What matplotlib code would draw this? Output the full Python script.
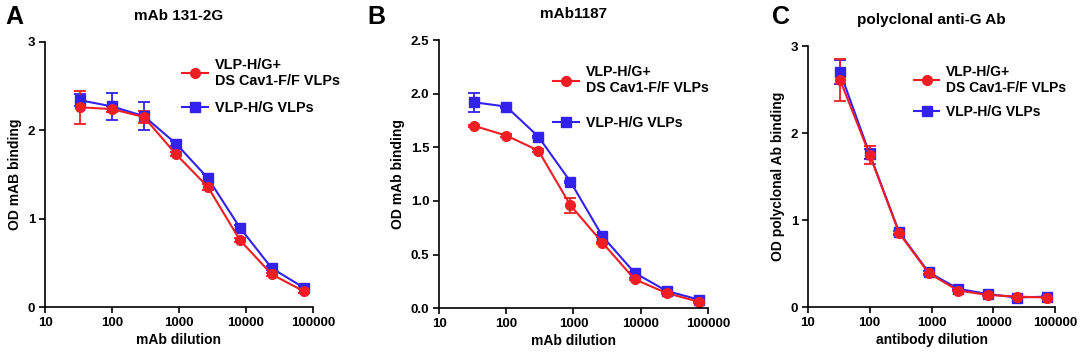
import matplotlib
matplotlib.use("Agg")
import matplotlib.pyplot as plt
from matplotlib.lines import Line2D
from matplotlib.ticker import FixedLocator, FixedFormatter, NullLocator

plt.rcParams['font.family'] = ['Liberation Sans', 'DejaVu Sans']
plt.rcParams['font.weight'] = 'bold'

dilution = [33.3, 100, 300, 900, 2700, 8100, 24300, 72900]

titles = ["mAb 131-2G", "mAb1187", "polyclonal anti-G Ab"]
panel_letters = ["A", "B", "C"]
xlabels = ["mAb dilution", "mAb dilution", "antibody dilution"]
ylabels = ["OD mAB binding", "OD mAb binding", "OD polyclonal Ab binding"]
label_red = "VLP-H/G+\nDS Cav1-F/F VLPs"
label_blue = "VLP-H/G VLPs"

# Panel A
a_red = [2.26, 2.24, 2.15, 1.73, 1.36, 0.76, 0.37, 0.18]
a_red_err = [0.19, 0.03, 0.07, 0.02, 0.03, 0.02, 0.02, 0.02]
a_blue = [2.34, 2.27, 2.16, 1.85, 1.46, 0.90, 0.44, 0.22]
a_blue_err = [0.07, 0.15, 0.16, 0.03, 0.05, 0.03, 0.02, 0.02]
# Panel B
b_red = [1.70, 1.61, 1.47, 0.96, 0.61, 0.27, 0.14, 0.06]
b_red_err = [0.01, 0.01, 0.01, 0.07, 0.01, 0.01, 0.01, 0.01]
b_blue = [1.92, 1.88, 1.60, 1.18, 0.67, 0.33, 0.16, 0.08]
b_blue_err = [0.09, 0.01, 0.01, 0.01, 0.01, 0.01, 0.01, 0.01]
# Panel C
c_red = [2.61, 1.75, 0.85, 0.39, 0.19, 0.14, 0.12, 0.11]
c_red_err = [0.24, 0.10, 0.02, 0.02, 0.01, 0.01, 0.01, 0.01]
c_blue = [2.70, 1.76, 0.86, 0.40, 0.21, 0.15, 0.11, 0.12]
c_blue_err = [0.14, 0.06, 0.02, 0.02, 0.01, 0.01, 0.01, 0.01]

yticks = [[0, 1, 2, 3], [0.0, 0.5, 1.0, 1.5, 2.0, 2.5], [0, 1, 2, 3]]
yticklabels = [["0", "1", "2", "3"], ["0.0", "0.5", "1.0", "1.5", "2.0", "2.5"], ["0", "1", "2", "3"]]
ylims = [(0, 3), (0, 2.5), (0, 3)]
xticks = [10, 100, 1000, 10000, 100000]
xticklabels = ["10", "100", "1000", "10000", "100000"]

RED = '#F01E23'
BLUE = '#3322EE'

fig = plt.figure(figsize=(10.8, 3.55), dpi=100)
positions = [
    [0.0417, 0.135, 0.248, 0.747],
    [0.4065, 0.132, 0.249, 0.755],
    [0.748, 0.135, 0.229, 0.735],
]
data = [
    (a_red, a_red_err, a_blue, a_blue_err),
    (b_red, b_red_err, b_blue, b_blue_err),
    (c_red, c_red_err, c_blue, c_blue_err),
]
legend_anchor = [(1.15, 0.99), (1.05, 0.955), (1.095, 0.977)]
legend_spacing = [0.9, 1.5, 0.75]
legend_fs = [10.4, 10.2, 10]
letter_x = [0.005, 0.34, 0.715]

for i in range(3):
    ax = fig.add_axes(positions[i])
    r, re, b, be = data[i]
    ax.errorbar(dilution, b, yerr=be, color=BLUE, marker='s', ms=6.5,
                lw=1.5, capsize=4, capthick=1.3, elinewidth=1.3)
    ax.errorbar(dilution, r, yerr=re, color=RED, marker='o', ms=7,
                lw=1.5, capsize=4, capthick=1.3, elinewidth=1.3)
    ax.set_xscale('log')
    ax.set_xlim(10, 100000)
    ax.set_ylim(*ylims[i])
    ax.xaxis.set_major_locator(FixedLocator(xticks))
    ax.xaxis.set_major_formatter(FixedFormatter(xticklabels))
    ax.xaxis.set_minor_locator(NullLocator())
    ax.set_yticks(yticks[i])
    ax.set_yticklabels(yticklabels[i])
    for s in ['top', 'right']:
        ax.spines[s].set_visible(False)
    for s in ['left', 'bottom']:
        ax.spines[s].set_linewidth(1.2)
    ax.tick_params(direction='out', length=4, width=1.2, labelsize=9.5, pad=3)
    for lab in ax.get_xticklabels() + ax.get_yticklabels():
        lab.set_fontweight('bold')
    ax.set_xlabel(xlabels[i], fontsize=10, fontweight='bold', labelpad=3)
    ax.set_ylabel(ylabels[i], fontsize=10, fontweight='bold', labelpad=4)
    ax.set_title(titles[i], fontsize=11, fontweight='bold', pad=16)
    hr = Line2D([], [], color=RED, marker='o', ms=7, lw=1.5)
    hb = Line2D([], [], color=BLUE, marker='s', ms=6.5, lw=1.5)
    leg = ax.legend([hr, hb], [label_red, label_blue], loc='upper right',
                    bbox_to_anchor=legend_anchor[i], frameon=False, fontsize=legend_fs[i],
                    handlelength=1.8, handletextpad=0.5, labelspacing=legend_spacing[i])
    for t in leg.get_texts():
        t.set_fontweight('bold')
    fig.text(letter_x[i], 0.985, panel_letters[i], fontsize=18, fontweight='bold',
             ha='left', va='top')

fig.savefig('out.png', dpi=100)
